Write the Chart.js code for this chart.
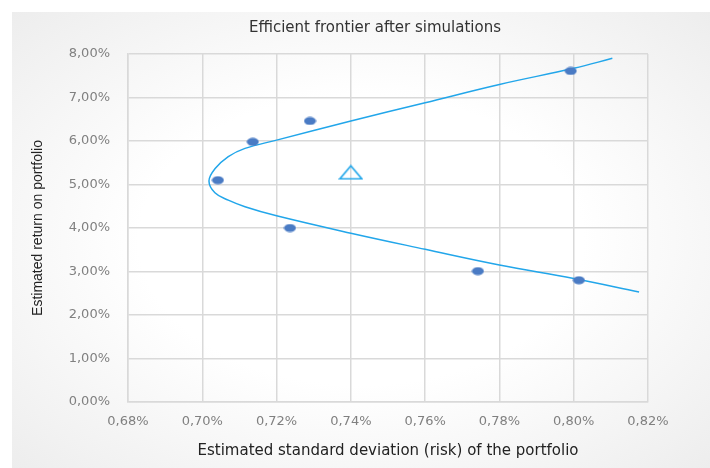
<!DOCTYPE html>
<html>
<head>
<meta charset="utf-8">
<script src="https://cdn.jsdelivr.net/npm/chart.js@4.4.1/dist/chart.umd.min.js"></script>
<style>
  html, body { margin: 0; padding: 0; background: #fff; }
  #wrap { position: relative; width: 710px; height: 468px; }
  #panel {
    position: absolute; left: 12px; top: 12px; right: 0; bottom: 0;
    background: radial-gradient(ellipse at 50% 50%, #ffffff 45%, #ededed 100%);
  }
  #chart { position: absolute; left: 0; top: 0; }
</style>
</head>
<body>
<div id="wrap">
  <div id="panel"></div>
  <canvas id="chart" width="710" height="468"></canvas>
</div>
<script>
// values in percent
const simRisk = [0.7042, 0.7136, 0.7290, 0.7236, 0.7742, 0.8014, 0.7992];
const simReturn = [5.10, 5.98, 6.46, 4.00, 3.01, 2.80, 7.61];

const portfolioRisk = [0.74];
const portfolioReturn = [5.28];

const frontierRisk = [0.8104, 0.80, 0.78, 0.76, 0.74, 0.72, 0.7115, 0.707, 0.7034, 0.7018,
                      0.7034, 0.707, 0.7115, 0.72, 0.74, 0.76, 0.78, 0.80, 0.8176];
const frontierReturn = [7.90, 7.67, 7.30, 6.88, 6.46, 6.02, 5.83, 5.64, 5.36, 5.08,
                        4.81, 4.64, 4.49, 4.28, 3.88, 3.51, 3.15, 2.84, 2.53];

const xTicks = [0.68, 0.70, 0.72, 0.74, 0.76, 0.78, 0.80, 0.82];
const yTicks = [0, 1, 2, 3, 4, 5, 6, 7, 8];

function pairs(xs, ys) {
    return xs.map((x, i) => ({ x: x, y: ys[i] }));
}

function fmtPct(v) {
    return v.toFixed(2).replace(".", ",") + "%";
}

// flattened dot like the original marker
const dot = document.createElement("canvas");
dot.width = 13;
dot.height = 9;
const dctx = dot.getContext("2d");
dctx.fillStyle = "#4a7bc4";
dctx.beginPath();
dctx.ellipse(6.5, 4.5, 6, 4, 0, 0, Math.PI * 2);
dctx.fill();

// wide open triangle
const tri = document.createElement("canvas");
tri.width = 25;
tri.height = 16;
const tctx = tri.getContext("2d");
tctx.strokeStyle = "#1ea5e9";
tctx.lineWidth = 1.6;
tctx.beginPath();
tctx.moveTo(12.5, 1.5);
tctx.lineTo(23.5, 14.5);
tctx.lineTo(1.5, 14.5);
tctx.closePath();
tctx.stroke();

const titlePlugin = {
    id: "topTitle",
    afterDraw(chart) {
        const c = chart.ctx;
        c.save();
        c.font = "15px 'DejaVu Sans'";
        c.fillStyle = "#333";
        c.textAlign = "center";
        c.textBaseline = "middle";
        c.fillText("Efficient frontier after simulations", 375, 28);
        c.restore();
    }
};

const gridColor = "#d9d9d9";
const tickFont = { family: "DejaVu Sans", size: 13 };

new Chart(document.getElementById("chart").getContext("2d"), {
    type: "scatter",
    data: {
        datasets: [
            {
                label: "Simulations",
                data: pairs(simRisk, simReturn),
                pointStyle: dot,
                pointRadius: 5
            },
            {
                label: "Portfolio",
                data: pairs(portfolioRisk, portfolioReturn),
                pointStyle: tri,
                pointRadius: 10
            },
            {
                label: "Frontier",
                data: pairs(frontierRisk, frontierReturn),
                showLine: true,
                tension: 0.4,
                pointRadius: 0,
                borderColor: "#22a6ea",
                borderWidth: 1.5
            }
        ]
    },
    options: {
        responsive: false,
        animation: false,
        layout: { padding: { top: 54, right: 62, left: 0, bottom: 0 } },
        plugins: {
            legend: { display: false },
            tooltip: { enabled: false }
        },
        scales: {
            x: {
                type: "linear",
                min: 0.68,
                max: 0.82,
                afterBuildTicks: s => { s.ticks = xTicks.map(v => ({ value: v })); },
                afterFit: s => { s.height = 66; },
                grid: { color: gridColor, lineWidth: 1.5, drawTicks: false },
                border: { color: gridColor, width: 1.5 },
                ticks: {
                    padding: 12,
                    color: "#808080",
                    font: tickFont,
                    maxRotation: 0,
                    callback: v => fmtPct(v)
                },
                title: {
                    display: true,
                    text: "Estimated standard deviation (risk) of the portfolio",
                    color: "#222",
                    font: { family: "DejaVu Sans", size: 15 },
                    padding: { top: 0, bottom: 8 }
                }
            },
            y: {
                type: "linear",
                min: 0,
                max: 8,
                afterBuildTicks: s => { s.ticks = yTicks.map(v => ({ value: v })); },
                afterFit: s => { s.width = 128; },
                grid: { color: gridColor, lineWidth: 1.5, drawTicks: false },
                border: { color: gridColor, width: 1.5 },
                ticks: {
                    padding: 18,
                    color: "#808080",
                    font: tickFont,
                    callback: v => fmtPct(v)
                },
                title: {
                    display: true,
                    text: "Estimated return on portfolio",
                    color: "#222",
                    font: { family: "Liberation Sans", size: 14 },
                    padding: { top: 30, bottom: 0 }
                }
            }
        }
    },
    plugins: [titlePlugin]
});
</script>
</body>
</html>
